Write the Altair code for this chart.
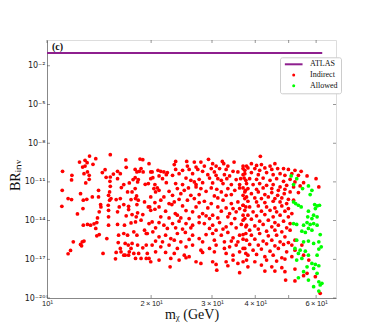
import altair as alt
import pandas as pd

# Values: (log10 m_chi [GeV], log10 BR_inv)
indirect_low_mass = [(1.183,-8.89),(1.123,-9.00),(1.141,-9.20),(1.110,-9.33),(1.094,-9.46),(1.116,-9.51),(1.103,-9.85),(1.110,-9.77),(1.133,-9.64),(1.045,-10.18),(1.072,-10.49),(1.071,-10.85),(1.107,-10.36),(1.117,-10.23),(1.122,-10.49),(1.122,-10.80),(1.112,-11.08),(1.160,-10.28),(1.168,-10.05),(1.171,-10.64),(1.183,-10.62),(1.182,-10.95),(1.183,-11.34),(1.192,-10.39),(1.204,-10.18),(1.204,-10.75),(1.212,-10.36),(1.228,-9.30),(1.229,-9.87),(1.269,-9.23),(1.277,-9.28),(1.255,-10.03),(1.260,-10.23),(1.267,-10.18),(1.272,-9.97),(1.278,-10.23),(1.249,-10.82),(1.255,-10.67),(1.264,-10.82),(1.262,-11.00),(1.238,-11.08),(1.222,-11.21),(1.215,-11.44),(1.233,-11.78),(1.246,-11.78),(1.255,-11.52),(1.284,-11.19),(1.044,-11.65),(1.097,-11.91),(1.149,-11.65),(1.131,-12.17),(1.149,-12.17),(1.115,-12.35),(1.105,-12.42),(1.061,-12.29),(1.071,-12.37),(1.043,-12.89),(1.104,-13.07),(1.088,-13.48),(1.155,-12.76),(1.156,-12.94),(1.151,-13.32),(1.181,-11.78),(1.178,-12.04),(1.181,-12.42),(1.185,-12.29),(1.177,-12.81),(1.178,-13.20),(1.200,-12.37),(1.209,-12.94),(1.212,-12.29),(1.222,-12.76),(1.243,-12.37),(1.259,-12.09),(1.256,-12.29),(1.264,-12.42),(1.282,-12.55),(1.260,-12.76),(1.236,-12.89),(1.236,-13.14),(1.246,-13.53),(1.262,-13.40),(1.277,-13.53),(1.258,-13.71),(1.272,-13.97),(1.146,-13.79),(1.144,-14.15),(1.136,-14.25),(1.126,-14.36),(1.117,-14.30),(1.105,-14.36),(1.141,-14.61),(1.178,-13.71),(1.178,-14.36),(1.204,-13.32),(1.229,-13.63),(1.204,-14.30),(1.224,-14.36),(1.243,-14.18),(1.256,-14.10),(1.282,-14.74),(1.287,-15.00),(1.251,-14.87),(1.260,-15.13),(1.222,-15.00),(1.233,-15.13),(1.207,-15.13),(1.144,-15.18),(1.151,-15.08),(1.173,-15.39),(1.107,-15.59),(1.102,-15.64),(1.097,-15.85),(1.100,-15.95),(1.076,-15.64),(1.068,-16.31),(1.061,-16.57),(1.162,-16.55),(1.206,-15.70),(1.212,-16.16),(1.214,-16.42),(1.200,-16.47),(1.198,-16.96),(1.226,-15.77),(1.235,-15.90),(1.243,-16.16),(1.251,-16.55),(1.238,-16.42),(1.262,-15.90),(1.277,-16.11),(1.287,-15.90),(1.256,-16.93),(1.226,-16.68),(1.236,-16.68),(1.265,-16.55),(1.272,-16.93),(1.287,-16.93),(1.246,-15.77),(1.222,-16.68)]

indirect_mid_mass = [(1.467,-9.25),(1.507,-9.41),(1.404,-9.41),(1.372,-9.41),(1.295,-9.59),(1.426,-9.46),(1.445,-9.46),(1.479,-9.59),(1.511,-9.59),(1.541,-9.46),(1.523,-9.77),(1.489,-9.77),(1.455,-9.77),(1.431,-9.85),(1.406,-9.77),(1.368,-9.66),(1.567,-9.77),
(1.300,-10.23),(1.304,-10.23),(1.321,-10.10),(1.329,-10.18),(1.338,-10.23),(1.348,-10.28),(1.372,-10.03),(1.392,-10.10),(1.411,-10.03),(1.436,-10.03),(1.450,-10.18),(1.475,-9.97),(1.484,-10.23),(1.499,-9.97),(1.518,-10.03),(1.538,-10.18),(1.552,-10.23),(1.572,-10.10),(1.324,-10.54),(1.345,-10.44),(1.363,-10.49),(1.382,-10.36),(1.421,-10.36),(1.465,-10.44),(1.489,-10.49),(1.513,-10.44),(1.528,-10.54),(1.567,-10.44),
(1.300,-10.75),(1.306,-10.67),(1.334,-10.75),(1.402,-10.70),(1.416,-10.88),(1.426,-11.00),(1.440,-10.80),(1.450,-11.06),(1.470,-10.70),(1.494,-10.75),(1.504,-10.88),(1.520,-10.75),(1.547,-10.82),(1.560,-10.75),(1.575,-10.88),(1.293,-11.13),(1.312,-11.21),(1.345,-11.06),(1.372,-11.13),(1.392,-11.21),(1.431,-11.21),(1.479,-11.08),(1.509,-11.13),(1.533,-11.21),(1.557,-11.21),
(1.309,-11.52),(1.319,-11.47),(1.314,-11.78),(1.324,-11.65),(1.353,-11.73),(1.377,-11.52),(1.397,-11.65),(1.409,-11.47),(1.431,-11.39),(1.445,-11.52),(1.460,-11.73),(1.475,-11.47),(1.491,-11.57),(1.504,-11.78),(1.523,-11.52),(1.543,-11.65),(1.557,-11.47),(1.574,-11.65),(1.300,-12.17),(1.338,-12.17),(1.363,-12.04),(1.387,-11.91),(1.416,-12.04),(1.440,-11.98),(1.484,-12.09),(1.494,-12.24),(1.518,-12.04),(1.533,-11.98),(1.567,-12.04),(1.572,-12.29),
(1.293,-12.94),(1.297,-12.94),(1.312,-12.60),(1.329,-12.42),(1.353,-12.68),(1.368,-12.55),(1.382,-12.35),(1.406,-12.42),(1.426,-12.29),(1.440,-12.60),(1.455,-12.50),(1.475,-12.68),(1.509,-12.42),(1.533,-12.68),(1.552,-12.55),(1.567,-12.81),(1.324,-12.94),(1.361,-12.76),(1.392,-12.86),(1.431,-12.94),(1.465,-13.02),(1.494,-12.94),(1.518,-13.02),(1.538,-13.07),(1.557,-13.07),(1.575,-12.94),
(1.300,-13.20),(1.312,-13.12),(1.343,-13.27),(1.371,-13.45),(1.377,-13.58),(1.402,-13.22),(1.421,-13.32),(1.450,-13.45),(1.460,-13.63),(1.479,-13.58),(1.504,-13.27),(1.528,-13.45),(1.547,-13.32),(1.567,-13.58),(1.329,-13.71),(1.353,-13.79),(1.387,-13.79),(1.411,-13.84),(1.440,-13.71),(1.470,-13.84),(1.494,-13.79),(1.523,-13.71),(1.543,-13.84),(1.572,-13.84),
(1.295,-14.23),(1.304,-14.10),(1.324,-14.15),(1.338,-14.36),(1.363,-14.23),(1.382,-14.05),(1.402,-14.23),(1.421,-14.36),(1.440,-14.15),(1.455,-14.23),(1.479,-14.36),(1.499,-14.15),(1.518,-14.48),(1.533,-14.23),(1.562,-14.30),(1.575,-14.48),(1.314,-14.56),(1.348,-14.61),(1.372,-14.56),(1.392,-14.66),(1.416,-14.56),(1.470,-14.61),(1.489,-14.74),(1.509,-14.66),(1.547,-14.56),
(1.290,-15.00),(1.306,-14.87),(1.324,-15.26),(1.343,-15.13),(1.358,-15.39),(1.377,-15.00),(1.400,-14.92),(1.421,-15.13),(1.440,-15.39),(1.460,-15.08),(1.479,-15.00),(1.504,-15.13),(1.523,-14.92),(1.538,-15.33),(1.557,-15.13),(1.575,-15.00),(1.314,-15.59),(1.334,-15.64),(1.368,-15.52),(1.387,-15.64),(1.411,-15.46),(1.450,-15.64),(1.484,-15.52),(1.513,-15.64),(1.533,-15.59),(1.552,-15.64),(1.567,-15.44),
(1.304,-15.90),(1.329,-16.03),(1.353,-15.90),(1.377,-16.16),(1.402,-16.03),(1.421,-15.90),(1.445,-16.29),(1.470,-16.16),(1.489,-15.90),(1.513,-16.16),(1.528,-16.03),(1.547,-15.90),(1.567,-16.16),(1.290,-16.55),(1.314,-16.42),(1.343,-16.47),(1.368,-16.55),(1.397,-16.68),(1.411,-16.80),(1.450,-16.47),(1.484,-16.42),(1.518,-16.55),(1.538,-16.68),(1.557,-16.42),(1.575,-16.55),
(1.295,-16.93),(1.300,-17.19),(1.324,-17.06),(1.358,-16.93),(1.382,-17.06),(1.402,-16.88),(1.431,-17.19),(1.445,-17.32),(1.479,-17.19),(1.489,-17.40),(1.518,-17.19),(1.538,-17.06),(1.552,-17.32),(1.356,-17.58),(1.523,-17.50),(1.567,-17.19),(1.491,-17.84),(1.557,-18.04)]

indirect_high_mass = [(1.617,-9.02),(1.591,-9.59),(1.606,-9.72),(1.577,-9.77),(1.620,-9.66),(1.645,-9.77),(1.659,-9.59),
(1.567,-9.97),(1.581,-9.92),(1.601,-9.97),(1.615,-10.10),(1.630,-9.92),(1.650,-10.03),(1.667,-9.97),(1.684,-9.97),(1.698,-10.03),(1.717,-10.10),(1.735,-10.18),(1.572,-10.36),(1.591,-10.28),(1.611,-10.44),(1.635,-10.28),(1.654,-10.44),(1.674,-10.36),(1.688,-10.49),(1.708,-10.36),(1.727,-10.49),(1.752,-10.54),(1.778,-10.75),
(1.570,-10.70),(1.586,-10.75),(1.606,-10.80),(1.625,-10.70),(1.645,-10.88),(1.664,-10.75),(1.684,-10.95),(1.703,-10.80),(1.717,-11.00),(1.742,-11.06),(1.577,-11.13),(1.596,-11.21),(1.615,-11.13),(1.635,-11.26),(1.654,-11.21),(1.674,-11.39),(1.693,-11.26),(1.713,-11.39),(1.732,-11.31),(1.567,-11.47),(1.581,-11.52),(1.606,-11.57),(1.625,-11.47),(1.650,-11.52),(1.669,-11.65),(1.688,-11.57),(1.786,-11.39),
(1.572,-11.78),(1.591,-11.91),(1.611,-11.78),(1.630,-11.98),(1.650,-11.83),(1.667,-12.04),(1.686,-11.91),(1.703,-11.78),(1.727,-11.83),(1.577,-12.17),(1.601,-12.24),(1.620,-12.29),(1.640,-12.17),(1.659,-12.29),(1.679,-12.24),(1.698,-12.35),(1.581,-12.50),(1.606,-12.55),(1.630,-12.60),(1.654,-12.50),(1.674,-12.55),(1.693,-12.68),(1.713,-12.42),
(1.567,-12.81),(1.586,-12.94),(1.611,-12.86),(1.635,-12.94),(1.659,-13.02),(1.679,-12.86),(1.698,-13.07),(1.572,-13.20),(1.596,-13.32),(1.620,-13.27),(1.645,-13.20),(1.664,-13.32),(1.688,-13.27),(1.708,-13.45),(1.581,-13.58),(1.606,-13.63),(1.630,-13.53),(1.654,-13.71),(1.674,-13.58),(1.698,-13.71),
(1.567,-13.97),(1.591,-13.89),(1.615,-14.05),(1.640,-13.97),(1.659,-14.15),(1.684,-14.05),(1.703,-14.23),(1.577,-14.36),(1.601,-14.41),(1.625,-14.30),(1.650,-14.48),(1.669,-14.36),(1.693,-14.56),(1.586,-14.74),(1.611,-14.66),(1.635,-14.82),(1.659,-14.74),(1.679,-14.87),(1.703,-14.74),
(1.567,-15.08),(1.591,-15.13),(1.615,-15.00),(1.640,-15.18),(1.664,-15.13),(1.688,-15.26),(1.577,-15.52),(1.601,-15.44),(1.625,-15.59),(1.650,-15.52),(1.674,-15.64),(1.698,-15.70),(1.717,-15.52),(1.586,-15.85),(1.611,-15.90),(1.635,-15.80),(1.659,-15.95),(1.684,-15.85),(1.708,-15.90),(1.737,-15.90),
(1.572,-16.16),(1.596,-16.29),(1.620,-16.21),(1.645,-16.37),(1.669,-16.16),(1.693,-16.42),(1.717,-16.29),(1.581,-16.68),(1.606,-16.62),(1.630,-16.80),(1.654,-16.68),(1.679,-16.88),(1.708,-16.80),(1.742,-16.68),(1.577,-17.06),(1.601,-17.19),(1.635,-17.06),(1.664,-17.14),(1.688,-16.98),(1.757,-17.06),
(1.581,-17.58),(1.620,-17.45),(1.650,-17.58),(1.679,-17.65),(1.630,-17.91),(1.659,-17.91),(1.688,-17.96),(1.717,-17.76),(1.752,-18.09),(1.690,-18.61),(1.717,-18.68),(1.742,-18.27),(1.776,-18.35),(1.790,-19.64)]

allowed_points = [(1.706,-10.54),(1.722,-10.75),(1.713,-11.21),(1.739,-11.52),(1.756,-11.31),(1.766,-11.65),(1.761,-11.98),(1.713,-12.55),(1.719,-12.68),(1.727,-12.81),(1.735,-12.94),(1.774,-12.76),(1.781,-12.86),(1.788,-12.81),(1.776,-13.07),(1.756,-13.27),(1.771,-13.58),(1.754,-13.71),(1.766,-13.84),(1.781,-13.71),(1.713,-14.23),(1.722,-14.30),(1.742,-14.36),(1.752,-14.15),(1.761,-14.30),(1.771,-14.23),(1.781,-14.36),(1.756,-14.61),(1.766,-14.74),(1.737,-14.82),(1.747,-14.92),(1.790,-15.08),(1.722,-15.52),(1.742,-15.64),(1.756,-15.59),(1.786,-15.64),(1.771,-15.77),(1.793,-16.03),(1.717,-16.16),(1.732,-16.29),(1.747,-16.37),(1.786,-16.21),(1.727,-16.55),(1.756,-16.68),(1.781,-16.68),(1.737,-16.93),(1.722,-17.06),(1.766,-17.32),(1.776,-17.40),(1.752,-17.58),(1.771,-17.71),(1.786,-17.50),(1.742,-17.96),(1.781,-18.09),(1.727,-18.43),(1.756,-18.61),(1.786,-18.74),(1.795,-18.86),(1.790,-18.99),(1.771,-19.12),(1.786,-19.46)]

atlas_mass = [10.0, 62.5]
atlas_br = [0.1, 0.1]

categories = ["ATLAS", "Indirect", "Allowed"]
cat_colors = ["#8e1f8e", "#ff0000", "#00ff00"]
# legend glyphs: a short thick bar for the ATLAS line, dots for the scans
cat_shapes = ["M-5.9,-0.67H5.9V0.67H-5.9Z", "circle", "circle"]

y_exps = [-20, -17, -14, -11, -8, -5, -2]
x_tick_values = [10, 20, 30, 40, 50, 60]

rows = []
for lm, lb in indirect_low_mass + indirect_mid_mass + indirect_high_mass:
    rows.append({"m": 10 ** lm, "br": 10 ** lb, "type": "Indirect", "order": 0})
for lm, lb in allowed_points:
    rows.append({"m": 10 ** lm, "br": 10 ** lb, "type": "Allowed", "order": 1})
pts = pd.DataFrame(rows)
atlas = pd.DataFrame({"m": atlas_mass, "br": atlas_br})

sup = str.maketrans("-0123456789", "⁻⁰¹²³⁴⁵⁶⁷⁸⁹")
y_vals = [10.0 ** e for e in y_exps]
y_expr = ""
for e in y_exps:
    y_expr += f"round(log(datum.value)/LN10) == {e} ? '10{str(e).translate(sup)}' : "
y_expr += "''"
x_expr = ("datum.value == 10 ? '10¹' : datum.value == 50 ? '' : "
          "format(datum.value/10, 'd') + '\u2009×\u200910¹'")

xscale = alt.Scale(type="log", domain=[10, 68.5], nice=False)
yscale = alt.Scale(type="log", domain=[1e-20, 1], nice=False)

xaxis = alt.Axis(values=x_tick_values, labelExpr=x_expr, title="mᵪ (GeV)", grid=False,
                 labelFont="Liberation Sans", labelFontSize=7.5, labelColor="#222",
                 titleFont="Liberation Serif", titleFontSize=14, titleFontWeight="normal",
                 titleColor="#111", titleX=144.5, titleY=20, titleBaseline="alphabetic",
                 ticks=False, labelPadding=1, domainColor="#888", labelFlush=False)
yaxis = alt.Axis(values=y_vals, labelExpr=y_expr, title="BRᵢₙᵥ", grid=False,
                 labelFont="DejaVu Sans", labelFontSize=8, labelColor="#222",
                 titleFont="Liberation Serif", titleFontSize=14, titleFontWeight="normal",
                 titleColor="#111", titleX=-28, titleY=135, titleAngle=270,
                 titleBaseline="alphabetic", titleAlign="center",
                 ticks=False, labelPadding=2, domainColor="#888", labelFlush=False)

legend = alt.Legend(
    title=None, orient="none", legendX=233, legendY=17.3,
    fillColor="white", strokeColor="#cccccc", padding=3, cornerRadius=2,
    labelFont="Liberation Serif", labelFontSize=8, labelColor="#111",
    rowPadding=2.7, symbolSize=9, symbolOffset=6.7, labelOffset=12.3,
    symbolStrokeWidth=0,
)

points = alt.Chart(pts).mark_point(filled=True, opacity=1, size=14, clip=True).encode(
    x=alt.X("m:Q", scale=xscale, axis=xaxis),
    y=alt.Y("br:Q", scale=yscale, axis=yaxis),
    color=alt.Color("type:N", scale=alt.Scale(domain=categories, range=cat_colors), legend=legend),
    shape=alt.Shape("type:N", scale=alt.Scale(domain=categories, range=cat_shapes), legend=legend),
    order=alt.Order("order:Q"),
)

line = alt.Chart(atlas).mark_line(color="#8e1f8e", strokeWidth=2, clip=True).encode(
    x=alt.X("m:Q", scale=xscale, axis=xaxis),
    y=alt.Y("br:Q", scale=yscale, axis=yaxis),
)

# inward ticks on all four sides, as in the original frame
yt = pd.DataFrame({"br": y_vals})
xt = pd.DataFrame({"m": x_tick_values})
tick_style = dict(color="#444", thickness=0.8, size=3)
ytick_l = alt.Chart(yt).mark_tick(**tick_style).encode(
    y=alt.Y("br:Q", scale=yscale, axis=yaxis), x=alt.value(1.5))
ytick_r = alt.Chart(yt).mark_tick(**tick_style).encode(
    y=alt.Y("br:Q", scale=yscale, axis=yaxis), x=alt.value(287.5))
xtick_b = alt.Chart(xt).mark_tick(**tick_style).encode(
    x=alt.X("m:Q", scale=xscale, axis=xaxis), y=alt.value(256.5))
xtick_t = alt.Chart(xt).mark_tick(**tick_style).encode(
    x=alt.X("m:Q", scale=xscale, axis=xaxis), y=alt.value(1.5))

label = alt.Chart(pd.DataFrame({"t": ["(c)"]})).mark_text(
    font="Liberation Serif", fontSize=10, fontWeight="bold", align="left", baseline="middle", color="#111"
).encode(x=alt.value(5), y=alt.value(7), text="t:N")

chart = alt.layer(points, line, ytick_l, ytick_r, xtick_b, xtick_t, label).properties(
    width=289, height=258,
    padding={"left": 39, "top": 32, "right": 30, "bottom": 30},
    autosize=alt.AutoSizeParams(type="none"),
).configure_view(stroke="#888", strokeWidth=1).configure(background="white")

chart.save("out.html", embed_options={"renderer": "svg", "actions": False})
